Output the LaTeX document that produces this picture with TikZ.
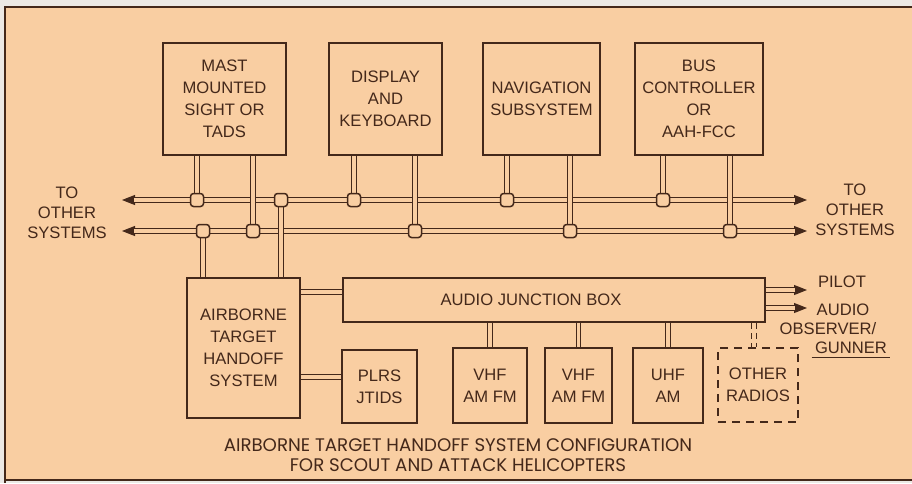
\documentclass[tikz,border=0pt]{standalone}
\usepackage{fontspec}
\setmainfont{Liberation Sans}
\newfontfamily\capfont{Poppins}
\usetikzlibrary{arrows.meta,backgrounds}
\definecolor{peach}{RGB}{249,206,162}
\definecolor{ink}{RGB}{68,40,26}
\definecolor{paper}{RGB}{236,233,229}

\begin{document}
\begin{tikzpicture}[x=0.5pt,y=-0.5pt,
    box/.style={draw=ink,line width=0.9pt,align=center,text=ink,font=\fontsize{8.3}{11}\selectfont,inner sep=0pt},
    lbl/.style={text=ink,align=center,font=\fontsize{8.3}{10}\selectfont,inner sep=0pt},
    bus/.style={draw=ink,line width=0.65pt,double=peach,double distance=1.6pt},
    tipline/.style={draw=ink,line width=0.5pt},
    jn/.style={draw=ink,fill=peach,line width=0.75pt,rounded corners=1.5pt,minimum size=6.5pt,inner sep=0pt}]
    \useasboundingbox (0,0) rectangle (912,483);
    \begin{scope}[on background layer]
    \fill[paper] (0,0) rectangle (912,483);
    \fill[peach] (5,7) rectangle (912,480);
    \draw[ink,line width=1pt] (912,7) -- (5,7) -- (5,483);
    \draw[ink,line width=1pt] (5,480) -- (912,480);
    \end{scope}

    % units
    \node[box,minimum width=61.5pt,minimum height=56pt] (mast) at (224.5,99) {MAST\\MOUNTED\\SIGHT OR\\TADS};
    \node[box,minimum width=56.5pt,minimum height=56pt] (disp) at (385.5,99) {DISPLAY\\AND\\KEYBOARD};
    \node[box,minimum width=58.5pt,minimum height=56pt] (nav) at (541.5,99) {NAVIGATION\\SUBSYSTEM};
    \node[box,minimum width=64pt,minimum height=56pt] (busc) at (699,99) {BUS\\CONTROLLER\\OR\\AAH-FCC};
    \node[box,minimum width=56.5pt,minimum height=70pt] (aths) at (243.5,348) {AIRBORNE\\TARGET\\HANDOFF\\SYSTEM};
    \node[box,minimum width=211pt,minimum height=22pt] (ajb) at (554,300) {};
    \node[lbl] (ajbtxt) at (531,300) {AUDIO JUNCTION BOX};
    \node[box,minimum width=37.5pt,minimum height=36.5pt] (plrs) at (379.5,386.5) {PLRS\\JTIDS};
    \node[box,minimum width=37pt,minimum height=37.5pt] (vhfa) at (490,385.5) {VHF\\AM FM};
    \node[box,minimum width=33.5pt,minimum height=37.5pt] (vhfb) at (578.5,385.5) {VHF\\AM FM};
    \node[box,minimum width=35pt,minimum height=37.5pt] (uhf) at (668,385.5) {UHF\\AM};
    \node[box,line width=1pt,dash pattern=on 4pt off 3pt,minimum width=40pt,minimum height=37pt] (radios) at (758,385) {OTHER\\RADIOS};

    % bus junctions
    \foreach \n/\x in {ua/197,ub/281,uc/354,ud/507,ue/663}
        \node[jn] (\n) at (\x,200) {};
    \foreach \n/\x in {la/203,lb/253,lc/415,ld/570,le/730}
        \node[jn] (\n) at (\x,231) {};
    \coordinate (ul) at (122,200);
    \coordinate (ur) at (807,200);
    \coordinate (ll) at (122,231);
    \coordinate (lr) at (807,231);
    \coordinate (pilotend) at (807,290);
    \coordinate (audioend) at (807,308);

    \begin{scope}[on background layer]
    \draw[tipline,{Triangle[length=6.5pt,width=5pt]}-{Triangle[length=6.5pt,width=5pt]}] (ul) -- (ur);
    \draw[tipline,{Triangle[length=6.5pt,width=5pt]}-{Triangle[length=6.5pt,width=5pt]}] (ll) -- (lr);
    \draw[bus,shorten <=6pt,shorten >=6pt] (ul) -- (ur);
    \draw[bus,shorten <=6pt,shorten >=6pt] (ll) -- (lr);
    % stubs
    \draw[bus] (mast.south -| ua) -- (ua);
    \draw[bus] (mast.south -| lb) -- (lb);
    \draw[bus] (disp.south -| uc) -- (uc);
    \draw[bus] (disp.south -| lc) -- (lc);
    \draw[bus] (nav.south -| ud) -- (ud);
    \draw[bus] (nav.south -| ld) -- (ld);
    \draw[bus] (busc.south -| ue) -- (ue);
    \draw[bus] (busc.south -| le) -- (le);
    \draw[bus] (aths.north -| la) -- (la);
    \draw[bus] (aths.north -| ub) -- (ub);
    % audio side
    \draw[bus] (aths.east |- 0,292) -- (ajb.west |- 0,292);
    \draw[bus] (aths.east |- 0,377) -- (plrs.west |- 0,377);
    \draw[bus] (ajb.south -| vhfa.north) -- (vhfa.north);
    \draw[bus] (ajb.south -| vhfb.north) -- (vhfb.north);
    \draw[bus] (ajb.south -| uhf.north) -- (uhf.north);
    \draw[bus,dash pattern=on 3pt off 2pt] (ajb.south -| 754,0) -- (radios.north -| 754,0);
    \draw[tipline,-{Triangle[length=6.5pt,width=5pt]}] (ajb.east |- pilotend) -- (pilotend);
    \draw[tipline,-{Triangle[length=6.5pt,width=5pt]}] (ajb.east |- audioend) -- (audioend);
    \draw[bus,shorten >=6pt] (ajb.east |- pilotend) -- (pilotend);
    \draw[bus,shorten >=6pt] (ajb.east |- audioend) -- (audioend);
    \end{scope}

    % labels
    \node[lbl] (tol) at (67,213) {TO\\OTHER\\SYSTEMS};
    \node[lbl] (tor) at (855,210) {TO\\OTHER\\SYSTEMS};
    \node[lbl] (pilot) at (842,282) {PILOT};
    \node[lbl] (audio) at (843,310) {AUDIO};
    \node[lbl] (observer) at (828,329) {OBSERVER/};
    \node[lbl,inner sep=1.5pt] (gunner) at (851,348) {GUNNER};
    \draw[ink,line width=0.7pt] (gunner.south west) -- (gunner.south east);
    \node[lbl,font=\capfont\fontsize{9.1}{10.2}\selectfont] (caption) at (458,455) {AIRBORNE TARGET HANDOFF SYSTEM CONFIGURATION\\FOR SCOUT AND ATTACK HELICOPTERS};
\end{tikzpicture}
\end{document}
